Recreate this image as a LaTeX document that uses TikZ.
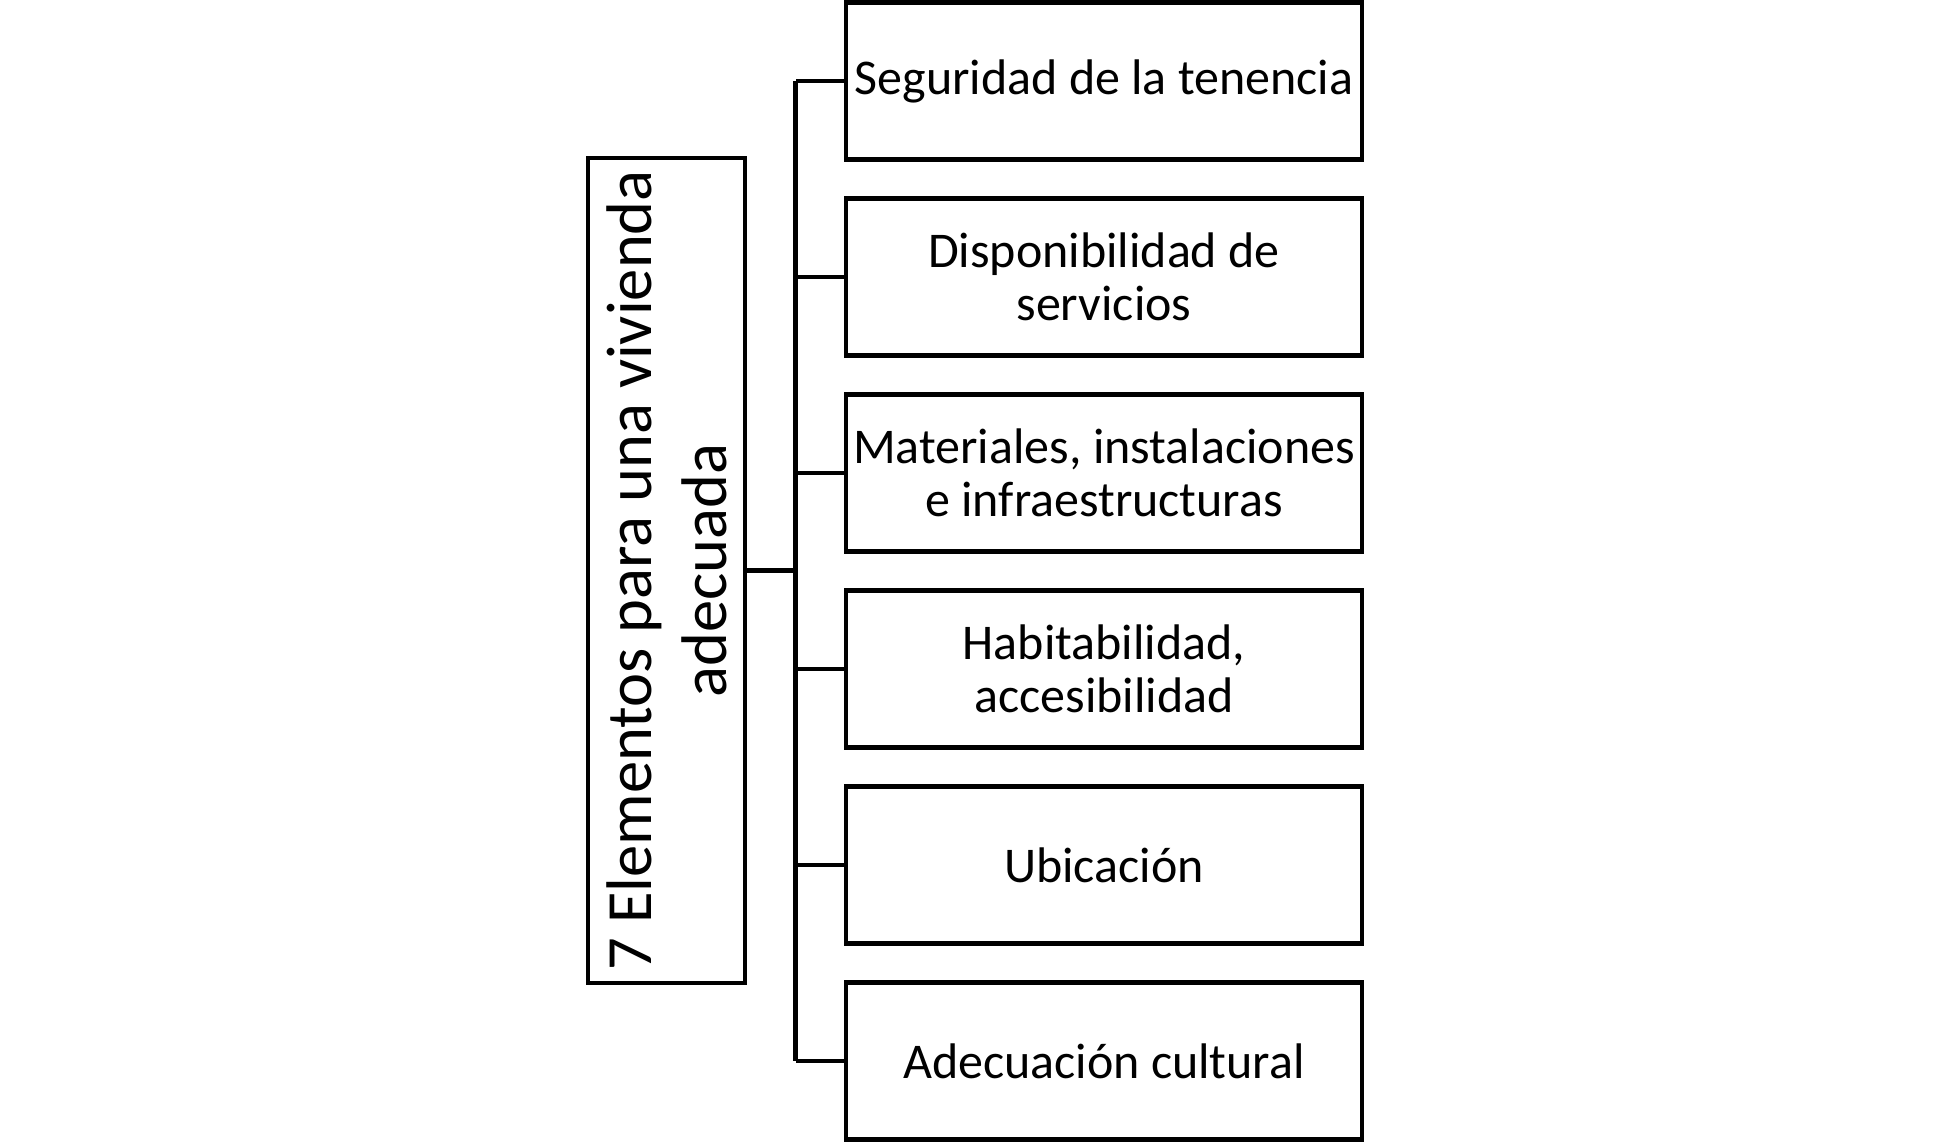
\documentclass[tikz,border=0pt]{standalone}
\usepackage{fontspec}
\setmainfont{Carlito}
\begin{document}
\begin{tikzpicture}[x=1pt,y=-1pt,
  line width=4.5pt,
  itembox/.style={draw, minimum width=516pt, minimum height=157pt, align=center, inner sep=0pt,
    font=\fontsize{50}{53}\selectfont},
  mainbox/.style={draw, minimum width=157pt, minimum height=825pt, inner sep=0pt},
  link/.style={line width=4.5pt}]
\useasboundingbox (0,0) rectangle (1949,1142);
\node[mainbox] (main) at (666.5,570.5) {\rotatebox{90}{\parbox{815pt}{\centering\fontsize{64.5}{75}\selectfont 7 Elementos para una vivienda\\adecuada}}};
\node[itembox] (b1) at (1104,81) {Seguridad de la tenencia};
\node[itembox] (b2) at (1104,277) {Disponibilidad de\\servicios};
\node[itembox] (b3) at (1104,473) {Materiales, instalaciones\\e infraestructuras};
\node[itembox] (b4) at (1104,669) {Habitabilidad,\\accesibilidad};
\node[itembox] (b5) at (1104,865) {Ubicación};
\node[itembox] (b6) at (1104,1061) {Adecuación cultural};
\coordinate (tx) at (795.5,0);
\draw[link] (b1.west -| tx) -- (b6.west -| tx);
\draw[link] (main.east) -- (main.east -| tx);
\foreach \b in {b1,b2,b3,b4,b5,b6}{
  \draw[link] (\b.west) -- (\b.west -| tx);
}
\end{tikzpicture}
\end{document}
